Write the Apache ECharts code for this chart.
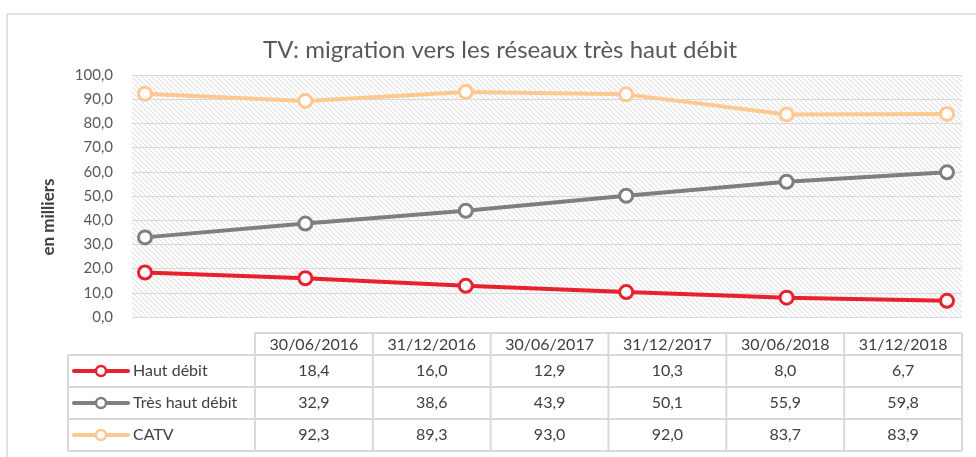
<!DOCTYPE html>
<html>
<head>
<meta charset="utf-8">
<script src="https://cdn.jsdelivr.net/npm/echarts@6/dist/echarts.min.js"></script>
<style>
  html, body { margin: 0; padding: 0; background: #fff; }
  #chart { width: 976px; height: 457px; }
</style>
</head>
<body>
<div id="chart"></div>
<script>
// Periods (columns of the data table)
const periods = ['30/06/2016', '31/12/2016', '30/06/2017', '31/12/2017', '30/06/2018', '31/12/2018'];
// Series names
const seriesNames = ['Haut débit', 'Très haut débit', 'CATV'];
// Values, in thousands
const hautDebit = [18.4, 16.0, 12.9, 10.3, 8.0, 6.7];
const tresHautDebit = [32.9, 38.6, 43.9, 50.1, 55.9, 59.8];
const catv = [92.3, 89.3, 93.0, 92.0, 83.7, 83.9];
// Y axis scale
const yMin = 0, yMax = 100, yStep = 10;
const yTitle = 'en milliers';

const colors = ['#E8212F', '#7F7F7F', '#FFC891'];
const allValues = [hautDebit, tresHautDebit, catv];

const FONT = 'Lato, "Open Sans", sans-serif';
const fmt = v => v.toFixed(1).replace('.', ',');

// Diagonal hatch tile for the plot background
function hatchTile() {
  const s = 5;
  const c = document.createElement('canvas');
  c.width = s; c.height = s;
  const g = c.getContext('2d');
  g.strokeStyle = '#e2e2e2';
  g.lineWidth = 1.1;
  g.beginPath();
  g.moveTo(-1, -1); g.lineTo(s + 1, s + 1);
  g.moveTo(-s - 1, -1); g.lineTo(1, s + 1);
  g.moveTo(s - 1, -1); g.lineTo(2 * s + 1, s + 1);
  g.stroke();
  return c;
}

// Plot area and point layout
const plotLeft = 132, plotRight = 962, plotTop = 75, plotBottom = 317;
const firstX = 145, lastX = 947;
const step = (lastX - firstX) / (periods.length - 1);
const xMin = -(firstX - plotLeft) / step;
const xMax = (periods.length - 1) + (plotRight - lastX) / step;

// Data table layout
const tbl = {
  labelLeft: 68, colLeft: 255, colRight: 962,
  headTop: 333, rowTop: 355, rowH: 32
};
const colW = (tbl.colRight - tbl.colLeft) / periods.length;
const lineCol = '#D9D9D9';

const graphics = [];
// Outer chart frame
graphics.push({
  type: 'rect', silent: true,
  shape: { x: 7, y: 14, width: 1100, height: 600 },
  style: { fill: null, stroke: lineCol, lineWidth: 1.5 }
});
// Vertical axis title
graphics.push({
  type: 'text', silent: true, x: 49, y: 217, rotation: Math.PI / 2,
  style: { text: yTitle, fill: '#404040', font: 'bold 17px ' + FONT, align: 'center', verticalAlign: 'middle' }
});

// Table grid lines
const tableBottom = tbl.rowTop + tbl.rowH * seriesNames.length;
graphics.push({ type: 'line', silent: true, shape: { x1: tbl.colLeft, y1: tbl.headTop, x2: tbl.colRight, y2: tbl.headTop }, style: { stroke: lineCol, lineWidth: 2 } });
for (let r = 0; r <= seriesNames.length; r++) {
  const y = tbl.rowTop + r * tbl.rowH;
  graphics.push({ type: 'line', silent: true, shape: { x1: tbl.labelLeft, y1: y, x2: tbl.colRight, y2: y }, style: { stroke: lineCol, lineWidth: 2 } });
}
graphics.push({ type: 'line', silent: true, shape: { x1: tbl.labelLeft, y1: tbl.rowTop, x2: tbl.labelLeft, y2: tableBottom }, style: { stroke: lineCol, lineWidth: 2 } });
for (let c = 0; c <= periods.length; c++) {
  const x = tbl.colLeft + c * colW;
  graphics.push({ type: 'line', silent: true, shape: { x1: x, y1: tbl.headTop, x2: x, y2: tableBottom }, style: { stroke: lineCol, lineWidth: 2 } });
}
// Header dates
periods.forEach((p, c) => {
  graphics.push({
    type: 'text', silent: true,
    x: tbl.colLeft + (c + 0.5) * colW, y: (tbl.headTop + tbl.rowTop) / 2 + 1,
    style: { text: p, fill: '#404040', font: '16px ' + FONT, align: 'center', verticalAlign: 'middle' }
  });
});
// Rows: legend key, name, values
seriesNames.forEach((name, r) => {
  const cy = tbl.rowTop + (r + 0.5) * tbl.rowH;
  graphics.push({ type: 'line', silent: true, shape: { x1: 74, y1: cy, x2: 128, y2: cy }, style: { stroke: colors[r], lineWidth: 4, lineCap: 'round' } });
  graphics.push({ type: 'circle', silent: true, shape: { cx: 101, cy: cy, r: 5 }, style: { fill: '#fff', stroke: colors[r], lineWidth: 2.5 } });
  graphics.push({
    type: 'text', silent: true, x: 133, y: cy,
    style: { text: name, fill: '#404040', font: '16px ' + FONT, align: 'left', verticalAlign: 'middle' }
  });
  allValues[r].forEach((v, c) => {
    graphics.push({
      type: 'text', silent: true,
      x: tbl.colLeft + (c + 0.5) * colW, y: cy,
      style: { text: fmt(v), fill: '#404040', font: '16px ' + FONT, align: 'center', verticalAlign: 'middle' }
    });
  });
});

const chart = echarts.init(document.getElementById('chart'), null, { renderer: 'canvas' });
chart.setOption({
  animation: false,
  backgroundColor: '#fff',
  title: {
    text: 'TV: migration vers les réseaux très haut débit',
    left: 495, top: 33, textAlign: 'center',
    textStyle: { color: '#595959', fontFamily: FONT, fontSize: 24, fontWeight: 'normal' }
  },
  grid: {
    left: plotLeft, right: 976 - plotRight, top: plotTop, bottom: 457 - plotBottom,
    show: true, borderWidth: 0,
    backgroundColor: { image: hatchTile(), repeat: 'repeat' }
  },
  xAxis: {
    type: 'value', min: xMin, max: xMax, show: false
  },
  yAxis: {
    type: 'value', min: yMin, max: yMax, interval: yStep,
    axisLine: { show: false }, axisTick: { show: false },
    axisLabel: { color: '#595959', fontFamily: FONT, fontSize: 15, margin: 19, formatter: fmt },
    splitLine: { lineStyle: { color: '#D9D9D9', width: 1 } }
  },
  series: seriesNames.map((name, i) => ({
    name: name,
    type: 'line',
    data: allValues[i].map((v, k) => [k, v]),
    symbol: 'circle', symbolSize: 13,
    z: 10 - i,
    lineStyle: { color: colors[i], width: 4 },
    itemStyle: { color: '#fff', borderColor: colors[i], borderWidth: 3 }
  })),
  graphic: graphics
});
</script>
</body>
</html>
